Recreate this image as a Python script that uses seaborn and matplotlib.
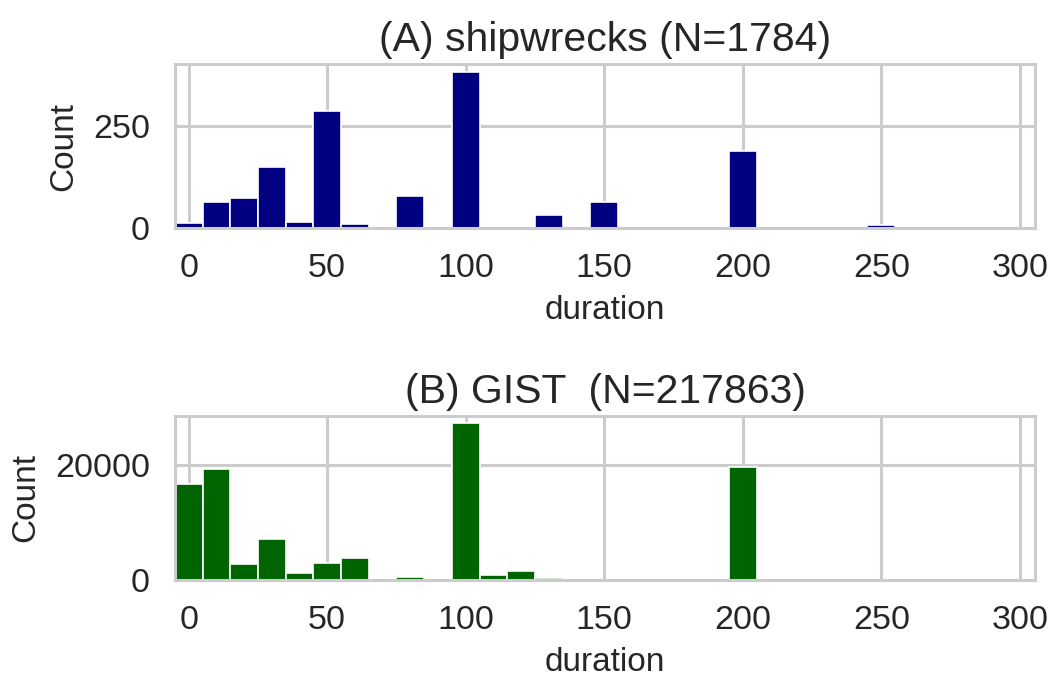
import numpy as np
import pandas as pd
import seaborn as sns
import matplotlib
matplotlib.use("Agg")
import matplotlib.pyplot as plt

# bin centres (duration) and counts
ship_duration = [0, 10, 20, 30, 40, 50, 60, 80, 100, 130, 150, 200, 250]
ship_count = [12, 65, 74, 149, 16, 285, 11, 78, 382, 33, 65, 188, 8]

gist_duration = [0, 10, 20, 30, 40, 50, 60, 80, 100, 110, 120, 130, 200]
gist_count = [16700, 19300, 2800, 7200, 1200, 2900, 3800, 450, 27200, 800, 1500, 300, 19650]

titles = ["(A) shipwrecks (N=1784)", "(B) GIST  (N=217863)"]
colors = ["navy", "darkgreen"]
yticks = [[0, 250], [0, 20000]]
xticks = [0, 50, 100, 150, 200, 250, 300]

sns.set_theme(style="whitegrid")
plt.rcParams["font.family"] = ["Liberation Sans", "DejaVu Sans"]
plt.rcParams["grid.linewidth"] = 2.2
plt.rcParams["axes.linewidth"] = 2.2
plt.rcParams["axes.edgecolor"] = "#cccccc"
plt.rcParams["grid.color"] = "#cccccc"

fig, axes = plt.subplots(2, 1, figsize=(10.53, 6.8), dpi=100)
fig.subplots_adjust(left=0.166, right=0.983, top=0.906, bottom=0.147, hspace=1.14)

datasets = [
    pd.DataFrame({"duration": ship_duration, "n": ship_count}),
    pd.DataFrame({"duration": gist_duration, "n": gist_count}),
]

for ax, df, title, color, yt in zip(axes, datasets, titles, colors, yticks):
    sns.histplot(data=df, x="duration", weights="n", binwidth=10,
                 binrange=(-5, 305), color=color, alpha=1,
                 edgecolor="white", linewidth=1.2, ax=ax)
    ax.set_xlim(-5, 305.5)
    ax.set_xticks(xticks)
    ax.set_yticks(yt)
    ax.tick_params(axis="x", labelsize=24.5, pad=12, colors="#262626")
    ax.tick_params(axis="y", labelsize=24.5, pad=12, colors="#262626")
    ax.set_xlabel("duration", fontsize=24, labelpad=8, color="#262626")
    ax.set_ylabel("Count", fontsize=24, labelpad=10, color="#262626")
    ax.set_title(title, fontsize=29.5, pad=9, color="#262626")

plt.savefig("out.png", dpi=100)
